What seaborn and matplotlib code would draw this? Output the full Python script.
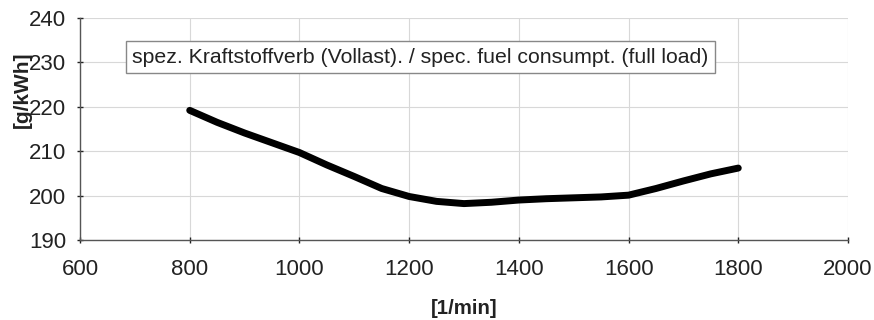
import matplotlib
matplotlib.use("Agg")
import matplotlib.pyplot as plt
import seaborn as sns
import pandas as pd

rpm = [800, 850, 900, 950, 1000, 1050, 1100, 1150, 1200, 1250, 1300,
       1350, 1400, 1450, 1500, 1550, 1600, 1650, 1700, 1750, 1800]
consumption = [219.2, 216.5, 214.1, 211.9, 209.7, 206.9, 204.3, 201.6, 199.8, 198.7, 198.2,
               198.5, 199.0, 199.3, 199.5, 199.7, 200.1, 201.6, 203.3, 204.9, 206.2]
x_ticks = [600, 800, 1000, 1200, 1400, 1600, 1800, 2000]
y_ticks = [190, 200, 210, 220, 230, 240]
label_text = "spez. Kraftstoffverb (Vollast). / spec. fuel consumpt. (full load)"

sns.set_theme(style="white")
plt.rcParams['font.family'] = ['Liberation Sans', 'DejaVu Sans']

df = pd.DataFrame({"rpm": rpm, "be": consumption})

fig = plt.figure(figsize=(8.74, 3.2), dpi=100)
ax = fig.add_axes([80 / 874, 1 - 240 / 320, 768 / 874, 222 / 320])

sns.lineplot(data=df, x="rpm", y="be", ax=ax, color="black", linewidth=5,
             solid_capstyle="round", solid_joinstyle="round")

ax.set_xlim(600, 2000)
ax.set_ylim(190, 240)
ax.set_xticks(x_ticks)
ax.set_yticks(y_ticks)
ax.grid(True, color="#d8d8d8", linewidth=0.8)
for s in ["top", "right"]:
    ax.spines[s].set_visible(False)
for s in ["left", "bottom"]:
    ax.spines[s].set_color("#555555")
    ax.spines[s].set_linewidth(1.0)
ax.tick_params(axis="both", which="both", labelsize=16, colors="#222222",
               length=4, width=1.0, direction="inout", left=True, bottom=True)
ax.tick_params(axis="x", pad=12)
ax.tick_params(axis="y", pad=8)

ax.set_xlabel("[1/min]", fontsize=14.7, fontweight="bold", color="#222222")
ax.xaxis.set_label_coords(0.5, -0.265)
ax.set_ylabel("[g/kWh]", fontsize=15, fontweight="bold", color="#222222")
ax.yaxis.set_label_coords(-0.0625, 0.678)

ax.text(0.443, 0.824, label_text, transform=ax.transAxes, fontsize=15.3,
        color="#222222", ha="center", va="center",
        bbox=dict(boxstyle="square,pad=0.3", facecolor="white",
                  edgecolor="#888888", linewidth=1.0))

fig.savefig("out.png", dpi=100)
